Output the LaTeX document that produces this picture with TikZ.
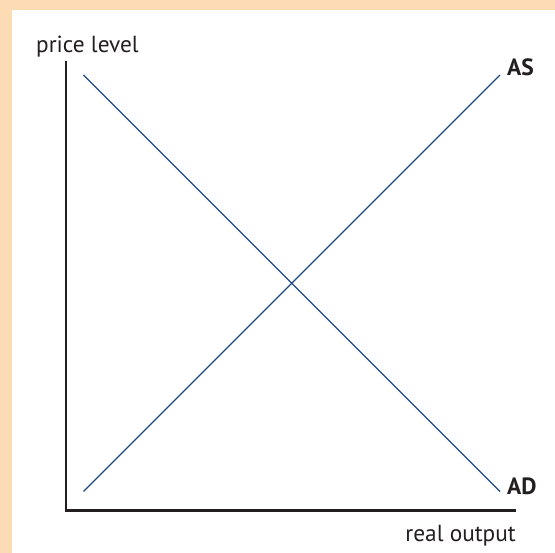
\documentclass[tikz,border=0pt]{standalone}
\usepackage{fontspec}
\setmainfont{PT Sans}
\definecolor{peach}{HTML}{FCDBB5}
\definecolor{curve}{HTML}{1C4A87}
\definecolor{ink}{HTML}{231F20}
\begin{document}
\begin{tikzpicture}[x=1pt,y=-1pt,
  axis/.style={draw=ink,line width=2.6pt},
  curveline/.style={draw=curve,line width=1.3pt},
  lbl/.style={text=ink,inner sep=0pt,font=\fontsize{23.3}{26}\selectfont},
  clbl/.style={text=ink,inner sep=0pt,font=\fontsize{23.5}{26}\selectfont\bfseries}]
\useasboundingbox (0,0) rectangle (555,553);
\fill[peach] (0,0) rectangle (555,553);
\fill[white] (12,10) rectangle (555,553);
\coordinate (ytop) at (66,61);
\coordinate (origin) at (66,510.5);
\coordinate (xend) at (516,510.5);
\draw[axis] (ytop) -- (origin) -- (xend);
\coordinate (ad1) at (83.5,75);
\coordinate (ad2) at (500,491.5);
\coordinate (as1) at (83.5,491.5);
\coordinate (as2) at (500,75);
\draw[curveline] (ad1) -- (ad2);
\draw[curveline] (as1) -- (as2);
\node[lbl,anchor=base west] (py) at (36,52.5) {price level};
\node[lbl,anchor=base east] (px) at (516,541.5) {real output};
\node[clbl,anchor=base west] (as) at (507,75.5) {AS};
\node[clbl,anchor=base west] (ad) at (507,494.5) {AD};
\end{tikzpicture}
\end{document}
